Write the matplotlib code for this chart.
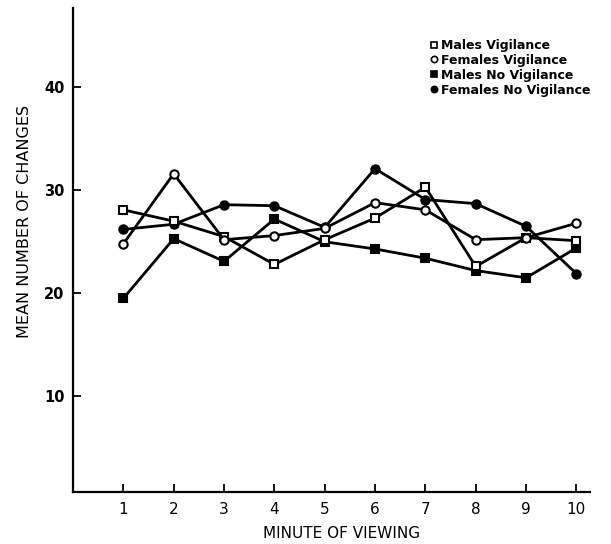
import matplotlib
matplotlib.use('Agg')
import matplotlib.pyplot as plt
from matplotlib.lines import Line2D

minutes = [1, 2, 3, 4, 5, 6, 7, 8, 9, 10]
males_vig = [28.1, 27.0, 25.5, 22.8, 25.2, 27.3, 30.3, 22.6, 25.4, 25.1]
females_vig = [24.8, 31.6, 25.2, 25.6, 26.3, 28.8, 28.1, 25.2, 25.4, 26.8]
males_novig = [19.5, 25.3, 23.1, 27.2, 25.0, 24.3, 23.4, 22.2, 21.5, 24.4]
females_novig = [26.2, 26.7, 28.6, 28.5, 26.4, 32.1, 29.1, 28.7, 26.5, 21.9]
labels = ['Males Vigilance', 'Females Vigilance',
          'Males No Vigilance', 'Females No Vigilance']
y_ticks = [10, 20, 30, 40]

fig = plt.figure(figsize=(6.11, 5.44), dpi=100)
ax = fig.add_axes([73 / 611, 1 - 492 / 544, 517 / 611, 484 / 544])

series = [(males_vig, 's', 'white'),
          (females_vig, 'o', 'white'),
          (males_novig, 's', 'black'),
          (females_novig, 'o', 'black')]
for vals, mk, face in series:
    ax.plot(minutes, vals, color='black', lw=2.0, marker=mk, ms=6,
            mfc=face, mec='black', mew=1.5, zorder=3 if face == 'white' else 2)

ax.set_xlim(0, 10.27)
ax.set_ylim(0.7, 47.7)
ax.set_xticks(minutes)
ax.set_yticks(y_ticks)
ax.spines['top'].set_visible(False)
ax.spines['right'].set_visible(False)
for s in ('left', 'bottom'):
    ax.spines[s].set_linewidth(1.6)
ax.tick_params(axis='both', direction='in', length=6, width=1.3)
ax.tick_params(axis='x', labelsize=11, pad=7)
ax.tick_params(axis='y', labelsize=10.5, pad=6)
for t in ax.get_yticklabels():
    t.set_fontweight('bold')

ax.set_xlabel('MINUTE OF VIEWING', fontsize=11)
ax.xaxis.set_label_coords(0.52, -0.07)
ax.set_ylabel('MEAN NUMBER OF CHANGES', fontsize=11.5)
ax.yaxis.set_label_coords(-0.08, 0.56)

handles = [Line2D([], [], ls='none', marker=mk, ms=4.5, mfc=face, mec='black', mew=1.2)
           for _, mk, face in series]
fig.legend(handles, labels, loc='upper left', bbox_to_anchor=(0.695, 0.94),
           frameon=False, handlelength=0.5, handletextpad=0.3, labelspacing=0.15,
           borderpad=0, prop={'size': 9, 'weight': 'bold'})

fig.savefig('out.png', dpi=100)
